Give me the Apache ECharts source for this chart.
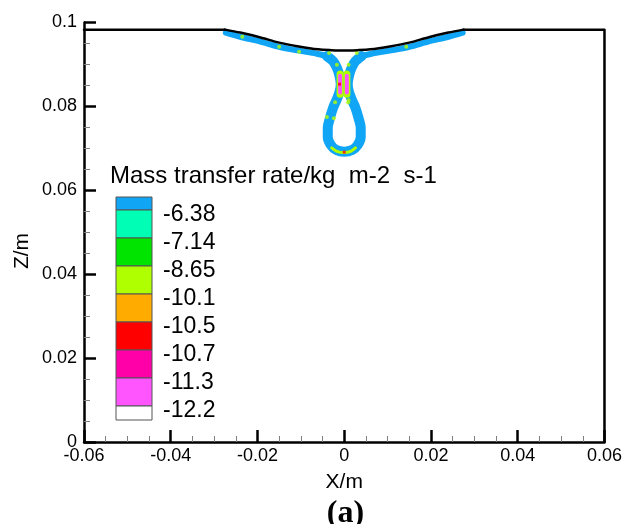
<!DOCTYPE html>
<html>
<head>
<meta charset="utf-8">
<script src="https://cdn.jsdelivr.net/npm/echarts@6/dist/echarts.min.js"></script>
<style>
html,body{margin:0;padding:0;background:#fff;}
#chart{width:625px;height:524px;}
</style>
</head>
<body>
<div id="chart"></div>
<script>
// ---- data (X/m, Z/m) ----
const xTicks = { min: -0.06, max: 0.06, interval: 0.02 };
const zTicks = { min: 0, max: 0.1, interval: 0.02 };

// free surface with the dimple
const surfaceX = [-0.0275, -0.024, -0.0195, -0.015, -0.0105, -0.006, -0.003, 0, 0.003, 0.006, 0.0105, 0.015, 0.0195, 0.024, 0.0275];
const surfaceZ = [0.0983, 0.0976, 0.0965, 0.0952, 0.0943, 0.0936, 0.0934, 0.0933, 0.0934, 0.0936, 0.0943, 0.0952, 0.0965, 0.0976, 0.0983];
// flat parts of the domain boundary + right wall
const boundLeftX = [-0.06, -0.0275];
const boundLeftZ = [0.0983, 0.0983];
const boundRightX = [0.0275, 0.06, 0.06];
const boundRightZ = [0.0983, 0.0983, 0];

// contour band under the surface (left / right)
const bandLeftX = [-0.0273, -0.024, -0.0195, -0.015, -0.0105, -0.0065, -0.004];
const bandLeftZ = [0.0976, 0.0966, 0.0955, 0.0942, 0.0933, 0.0926, 0.0920];
const bandRightX = [0.004, 0.0065, 0.0105, 0.015, 0.0195, 0.024, 0.0273];
const bandRightZ = [0.0920, 0.0926, 0.0933, 0.0942, 0.0955, 0.0966, 0.0976];

// neck and drop loop
const loopX = [-0.004, -0.0026, -0.0017, -0.0011, -0.0008, -0.0011, -0.0018, -0.0026, -0.0033, -0.0038, -0.0038, -0.0031, -0.0018, 0,
               0.0018, 0.0031, 0.0038, 0.0038, 0.0033, 0.0026, 0.0018, 0.0011, 0.0008, 0.0011, 0.0017, 0.0026, 0.004];
const loopZ = [0.0920, 0.0908, 0.0892, 0.0873, 0.0853, 0.0834, 0.0815, 0.0796, 0.0772, 0.0749, 0.0727, 0.0708, 0.0696, 0.0692,
               0.0696, 0.0708, 0.0727, 0.0749, 0.0772, 0.0796, 0.0815, 0.0834, 0.0853, 0.0873, 0.0892, 0.0908, 0.0920];

// strips of high rate in the neck
const stripLeftX = [-0.00095, -0.00095];
const stripRightX = [0.0006, 0.0006];
const stripOuterZ = [0.0877, 0.0829];
const stripInnerZ = [0.0873, 0.0833];
// yellow-green arc at the bottom of the drop
const arcX = [-0.0029, -0.0017, 0, 0.0015, 0.0026];
const arcZ = [0.0701, 0.0693, 0.0690, 0.0693, 0.0701];
// scattered yellow-green spots
const spotX = [-0.0235, -0.015, -0.0104, -0.0035, -0.0017, -0.0021, -0.0040, 0.0010, 0.0029, 0.0010, 0.0009, -0.0024, 0.0143];
const spotZ = [0.0966, 0.0942, 0.0930, 0.0927, 0.0899, 0.0810, 0.0775, 0.0899, 0.0927, 0.0815, 0.0809, 0.0772, 0.0942];
// red hot spots
const hotX = [-0.0011, 0];
const hotZ = [0.0853, 0.0691];

// legend
const legendTitle = 'Mass transfer rate/kg  m-2  s-1';
const legendColors = ['#10a5f5', '#00ffb4', '#00e400', '#b0ff00', '#ffab00', '#ff0000', '#ff00a8', '#ff55ff', '#ffffff'];
const legendLabels = ['-6.38', '-7.14', '-8.65', '-10.1', '-10.5', '-10.7', '-11.3', '-12.2'];

const zip = (a, b) => a.map((v, i) => [v, b[i]]);

const BLUE = legendColors[0], YG = legendColors[3], PINK = legendColors[7], RED = legendColors[5];

const chart = echarts.init(document.getElementById('chart'), null, { renderer: 'canvas' });

function fmt(v) { return String(parseFloat(v.toFixed(4))); }

const axisCommon = {
  type: 'value',
  splitLine: { show: false },
  axisLine: { show: true, onZero: false, lineStyle: { color: '#000', width: 2.5 } },
  axisTick: { show: true, inside: true, length: 12, lineStyle: { color: '#000', width: 2.5 } },
  minorTick: { show: true, splitNumber: 4, length: 6, lineStyle: { color: '#808080', width: 1 } },
  axisLabel: { color: '#000', fontSize: 18, fontFamily: 'Liberation Sans', formatter: fmt }
};

// legend graphics
const lg = [];
const boxX = 116, boxW = 36, firstTop = 197, firstB = 210, step = 28;
legendColors.forEach((c, i) => {
  let y0, y1;
  if (i === 0) { y0 = firstTop; y1 = firstB; }
  else if (i === legendColors.length - 1) { y0 = firstB + (i - 1) * step; y1 = y0 + 14; }
  else { y0 = firstB + (i - 1) * step; y1 = y0 + step; }
  lg.push({ type: 'rect', shape: { x: boxX, y: y0, width: boxW, height: y1 - y0 },
    style: { fill: c, stroke: '#555', lineWidth: 1 } });
});
legendLabels.forEach((t, i) => {
  lg.push({ type: 'text', x: 163, y: firstB + i * step + 5,
    style: { text: t, fill: '#000', font: '23px "Liberation Sans"', align: 'left', verticalAlign: 'middle' } });
});
lg.push({ type: 'text', x: 110, y: 176,
  style: { text: legendTitle, fill: '#000', font: '24px "Liberation Sans"', align: 'left', verticalAlign: 'middle' } });
lg.push({ type: 'text', x: 22, y: 251, rotation: Math.PI / 2,
  style: { text: 'Z/m', fill: '#000', font: '21px "Liberation Sans"', align: 'center', verticalAlign: 'middle' } });
lg.push({ type: 'text', x: 345.5, y: 514,
  style: { text: '(a)', fill: '#000', font: 'bold 32px "Liberation Serif"', align: 'center', verticalAlign: 'middle' } });

const lineS = (name, data, color, width, smooth, z) => ({
  name, type: 'line', data, showSymbol: false, symbol: 'none', smooth: smooth,
  lineStyle: { color, width, cap: 'round', join: 'round' }, z: z, silent: true, clip: false
});

chart.setOption({
  animation: false,
  backgroundColor: '#fff',
  textStyle: { fontFamily: 'Liberation Sans' },
  grid: { left: 84, right: 17.5, top: 22.5, bottom: 82, containLabel: false },
  xAxis: Object.assign({}, axisCommon, {
    min: xTicks.min, max: xTicks.max, interval: xTicks.interval,
    axisLabel: Object.assign({}, axisCommon.axisLabel, { margin: 5 }),
    name: 'X/m', nameLocation: 'middle', nameGap: 30,
    nameTextStyle: { color: '#000', fontSize: 21, fontFamily: 'Liberation Sans' }
  }),
  yAxis: Object.assign({}, axisCommon, {
    min: zTicks.min, max: zTicks.max, interval: zTicks.interval,
    axisLabel: Object.assign({}, axisCommon.axisLabel, { margin: 7 })
  }),
  graphic: lg,
  series: [
    lineS('bandLeft', zip(bandLeftX, bandLeftZ), BLUE, 6, 0.3, 2),
    lineS('bandRight', zip(bandRightX, bandRightZ), BLUE, 6, 0.3, 2),
    lineS('loop', zip(loopX, loopZ), BLUE, 10, 0.3, 2),
    lineS('arc', zip(arcX, arcZ), YG, 3, 0.3, 3),
    lineS('stripLOut', zip(stripLeftX, stripOuterZ), YG, 7, false, 3),
    lineS('stripROut', zip(stripRightX, stripOuterZ), YG, 7, false, 3),
    lineS('stripLIn', zip(stripLeftX, stripInnerZ), PINK, 4, false, 4),
    lineS('stripRIn', zip(stripRightX, stripInnerZ), PINK, 4, false, 4),
    { name: 'spots', type: 'scatter', data: zip(spotX, spotZ), symbol: 'circle', symbolSize: 4,
      itemStyle: { color: YG }, z: 3, silent: true },
    { name: 'hot', type: 'scatter', data: zip(hotX, hotZ), symbol: 'rect', symbolSize: 3,
      itemStyle: { color: RED }, z: 5, silent: true },
    lineS('surface', zip(surfaceX, surfaceZ), '#000', 2.5, 0.3, 6),
    lineS('boundLeft', zip(boundLeftX, boundLeftZ), '#000', 2.5, false, 6),
    lineS('boundRight', zip(boundRightX, boundRightZ), '#000', 2.5, false, 6)
  ]
});
</script>
</body>
</html>
